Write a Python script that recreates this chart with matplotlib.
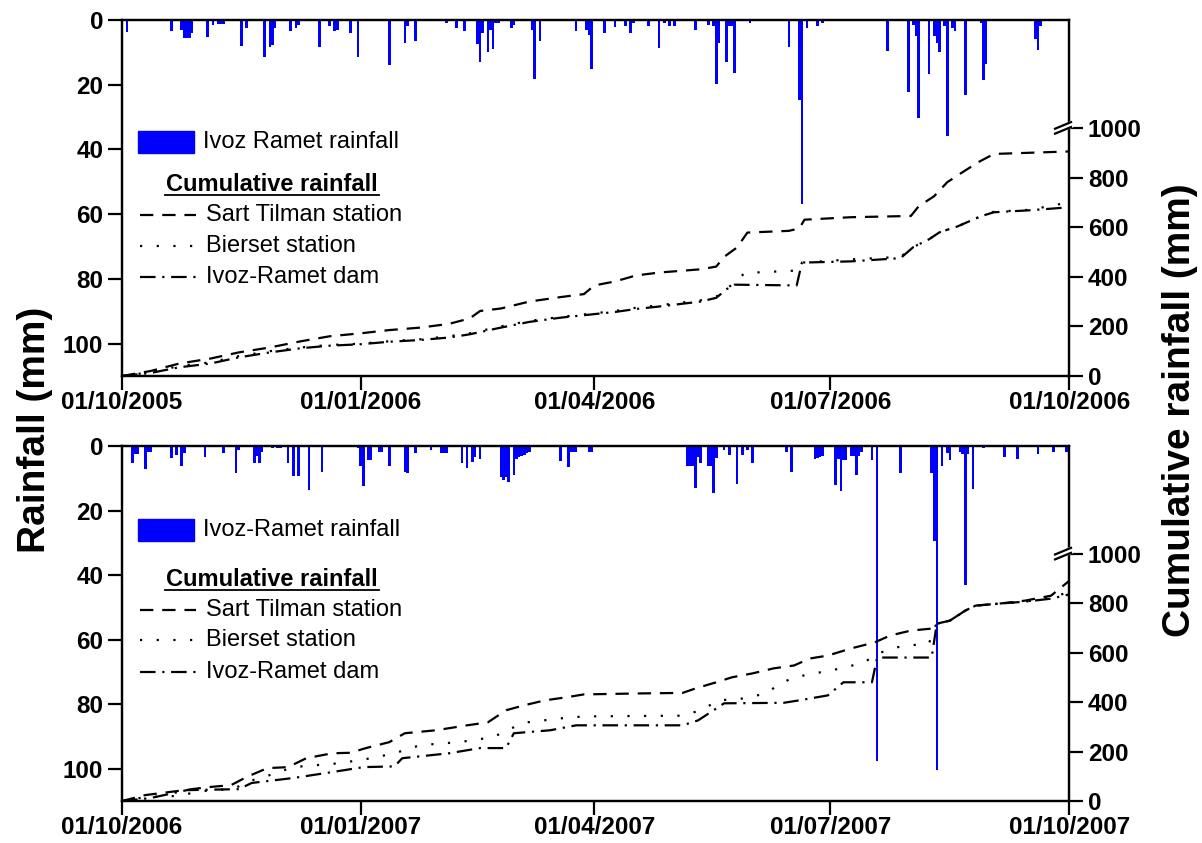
import numpy as np
import matplotlib
matplotlib.use('Agg')
import matplotlib.pyplot as plt
from matplotlib.patches import Rectangle
from matplotlib.transforms import blended_transform_factory

plt.rcParams['font.family'] = ['Liberation Sans', 'DejaVu Sans']

# ---- panel 1 : 01/10/2005 -> 01/10/2006 ----
start_1 = np.datetime64('2005-10-01')
tick_labels_1 = ['01/10/2005', '01/01/2006', '01/04/2006', '01/07/2006', '01/10/2006']
rain_label_1 = 'Ivoz Ramet rainfall'

# daily rainfall (day since start, mm)
rain_days_1 = [0, 2, 19, 23, 24, 25, 26, 27, 33, 35, 37, 38, 39, 46, 48, 55, 57, 58, 59, 65,
               67, 68, 76, 80, 82, 83, 88, 91, 103, 109, 110, 113, 125, 129, 132, 137, 138,
               139, 141, 142, 143, 144, 145, 150, 151, 158, 159, 161, 175, 179, 180, 181,
               186, 190, 194, 196, 197, 203, 207, 209, 211, 213, 221, 226, 228, 229, 230,
               233, 234, 235, 236, 242, 257, 261, 262, 264, 268, 270, 295, 303, 305, 306,
               307, 311, 313, 314, 315, 317, 318, 320, 321, 325, 331, 332, 333, 352, 353, 354]
rain_mm_1 = [7.4, 3.8, 3.5, 3, 5.5, 5.5, 5.5, 4, 5.3, 1.5, 1.2, 1.2, 1.2, 8.1, 2.5, 11.5, 8.4,
             7.6, 2.5, 3.5, 2.5, 1.5, 8.4, 2, 3.5, 3, 4, 11.3, 13.9, 7.2, 2, 6.4, 1, 2.4, 3.5,
             7.4, 13, 4, 10, 3, 9, 1, 1, 2.5, 1.5, 3, 18.2, 6.6, 3.5, 3, 4.5, 15.1, 4, 2.2, 2,
             4, 1, 2, 8.6, 1, 2, 2, 3, 1.5, 2, 19.7, 7, 13, 2, 2, 16.3, 0.8, 8.2, 24.7, 57,
             2.5, 2, 0.8, 9.5, 22.3, 1.5, 5, 30.2, 16.7, 5, 7, 10, 2, 35.7, 2.5, 3.5, 23.1,
             0.8, 18.7, 13.5, 6, 9.3, 2]

# cumulative rainfall (day since start, mm)
sart_days_1 = [0, 11, 22, 34, 45, 57, 69, 80, 92, 103, 115, 126, 134, 138, 146, 157, 169, 178,
               182, 190, 198, 207, 223, 229, 232, 237, 241, 257, 261, 263, 281, 304, 307, 313,
               318, 324, 330, 336, 365]
sart_mm_1 = [0, 20, 50, 70, 95, 115, 140, 160, 172, 185, 195, 210, 232, 262, 272, 300, 318,
             330, 365, 381, 405, 417, 430, 441, 480, 518, 578, 585, 595, 630, 640, 645, 684,
             725, 781, 822, 862, 895, 905]
bier_days_1 = [0, 11, 22, 34, 45, 57, 69, 80, 92, 103, 115, 126, 134, 146, 157, 169, 178, 190,
               198, 207, 223, 229, 233, 240, 250, 260, 262, 281, 300, 305, 311, 315, 322, 331,
               336, 350, 365]
bier_mm_1 = [0, 15, 40, 55, 80, 100, 115, 125, 130, 140, 148, 160, 172, 200, 222, 238, 248,
             262, 275, 285, 305, 320, 350, 415, 420, 425, 457, 470, 480, 520, 551, 579, 603,
             644, 662, 670, 700]
ivoz_days_1 = [0, 11, 22, 34, 45, 57, 69, 80, 92, 103, 115, 126, 134, 146, 157, 169, 178, 190,
               198, 207, 223, 229, 233, 236, 260, 262, 281, 300, 305, 311, 315, 322, 331, 336,
               350, 365]
ivoz_mm_1 = [0, 12, 35, 50, 75, 95, 112, 122, 128, 138, 145, 155, 168, 195, 218, 235, 245,
             258, 270, 280, 300, 315, 350, 368, 365, 457, 462, 475, 520, 551, 579, 603, 644,
             660, 668, 680]

# ---- panel 2 : 01/10/2006 -> 01/10/2007 ----
start_2 = np.datetime64('2006-10-01')
tick_labels_2 = ['01/10/2006', '01/01/2007', '01/04/2007', '01/07/2007', '01/10/2007']
rain_label_2 = 'Ivoz-Ramet rainfall'

rain_days_2 = [4, 5, 6, 9, 10, 11, 19, 21, 23, 24, 32, 39, 44, 45, 51, 52, 53, 54, 58, 60, 61,
               64, 66, 68, 72, 77, 91, 92, 93, 95, 96, 99, 100, 103, 109, 110, 113, 119, 123,
               124, 125, 131, 133, 135, 136, 138, 146, 147, 148, 149, 151, 152, 153, 154, 155,
               156, 157, 169, 172, 173, 174, 175, 180, 181, 218, 219, 220, 221, 222, 223, 226,
               227, 228, 229, 232, 234, 237, 239, 241, 243, 256, 258, 267, 268, 269, 270, 275,
               276, 277, 278, 279, 281, 282, 283, 284, 285, 289, 291, 300, 312, 313, 314, 316,
               318, 319, 323, 324, 325, 326, 328, 332, 340, 345, 353, 359, 364]
rain_mm_2 = [5.3, 2.5, 2.5, 7.2, 1.8, 1.8, 3.8, 2.8, 6.2, 2.3, 3.3, 2.3, 8.4, 1.2, 5.3, 3, 5.3,
             2, 0.7, 0.7, 0.7, 5.3, 9.2, 9.2, 13.5, 8.2, 0.7, 6.3, 12.3, 4.3, 4.3, 1.8, 1.8,
             6.3, 8.2, 8.4, 2.3, 1.2, 2.3, 2.3, 2.3, 5.3, 6.9, 5, 3.5, 4, 9.5, 10.5, 9.5, 11,
             9, 4, 3.5, 3, 2.8, 2.3, 2, 4.5, 6.6, 1.8, 1.8, 1.8, 1.8, 1.8, 6.3, 6.3, 6.3, 13,
             3.3, 5.3, 6.3, 6.3, 14.6, 3.8, 1.2, 2.8, 11.8, 2.8, 1.2, 5.3, 1.8, 8.1, 4, 3.8,
             3.5, 3, 12, 4, 14, 4.3, 4.3, 3, 3, 9, 3, 2, 4.3, 97.5, 8.4, 8.4, 29.5, 100.3,
             6.2, 2.3, 4.3, 2, 2.5, 43, 2.5, 13.3, 0.7, 3.3, 4, 2.5, 1.8, 1.8]

sart_days_2 = [0, 9, 15, 24, 33, 42, 48, 56, 64, 71, 81, 88, 94, 103, 109, 121, 133, 141, 148,
               155, 163, 171, 178, 200, 216, 221, 229, 235, 243, 251, 259, 265, 272, 281, 290,
               296, 304, 312, 314, 319, 325, 329, 338, 348, 358, 365]
sart_mm_2 = [0, 24, 32, 44, 56, 64, 97, 133, 137, 173, 193, 195, 214, 238, 274, 286, 306, 318,
             367, 387, 407, 419, 431, 435, 437, 455, 480, 500, 516, 536, 548, 576, 588, 617,
             641, 669, 689, 697, 717, 729, 770, 790, 798, 810, 830, 890]
bier_days_2 = [0, 9, 20, 34, 43, 48, 57, 66, 84, 96, 105, 115, 130, 143, 150, 156, 169, 178,
               216, 223, 230, 240, 248, 254, 259, 267, 277, 286, 291, 300, 311, 313, 314, 319,
               325, 329, 338, 348, 358, 365]
bier_mm_2 = [0, 16, 20, 44, 48, 77, 105, 137, 153, 173, 193, 226, 238, 258, 294, 318, 334,
             342, 345, 367, 407, 415, 435, 476, 500, 516, 536, 560, 596, 625, 637, 700, 717,
             729, 770, 790, 798, 806, 822, 845]
ivoz_days_2 = [0, 11, 25, 45, 50, 66, 81, 93, 105, 108, 126, 138, 148, 151, 165, 175, 216, 222,
               228, 232, 255, 261, 272, 278, 289, 291, 312, 314, 319, 325, 329, 338, 348, 358,
               365]
ivoz_mm_2 = [0, 12, 44, 48, 73, 93, 117, 137, 140, 173, 193, 214, 214, 274, 286, 306, 306, 326,
             367, 395, 397, 407, 427, 480, 480, 580, 580, 717, 729, 770, 790, 798, 806, 818,
             835]

fig = plt.figure(figsize=(12.02, 8.43), dpi=100)
ax_top = fig.add_axes([0.1015, 0.554, 0.788, 0.4223])
ax_bot = fig.add_axes([0.1015, 0.0498, 0.788, 0.4211])

TICK_FS = 17.5
LEG_FS = 17


def draw_panel(ax, start, tick_labels, rain_label, rain_days, rain_mm, cum, leg_y):
    end = start + np.timedelta64(365, 'D')
    x_rain = start + np.array(rain_days).astype('timedelta64[D]')
    ax.bar(x_rain, rain_mm, width=1.0, color='#0000ff', linewidth=0, zorder=2)
    ax.set_ylim(110, 0)
    ax.set_xlim(start, end)
    ax.set_yticks([0, 20, 40, 60, 80, 100])
    yr = str(start.astype(object).year + 1)
    ticks = [start, np.datetime64(yr + '-01-01'), np.datetime64(yr + '-04-01'),
             np.datetime64(yr + '-07-01'), end]
    ax.set_xticks(ticks)
    ax.set_xticklabels(tick_labels)
    for s in ax.spines.values():
        s.set_linewidth(1.6)
    ax.tick_params(axis='both', direction='out', length=10, width=1.6, labelsize=TICK_FS)
    ax.tick_params(axis='x', length=10, pad=0.5)
    for lab in ax.get_xticklabels() + ax.get_yticklabels():
        lab.set_fontweight('bold')

    ax2 = ax.twinx()
    styles = [(6, 4), (1, 6.5), (7, 3, 1, 3)]
    for (days, mm), dash in zip(cum, styles):
        xd = start + np.array(days).astype('timedelta64[D]')
        ax2.plot(xd, mm, color='k', lw=1.6, dashes=dash)
    ax2.set_ylim(0, 1435)
    ax2.set_xlim(start, end)
    ax2.set_yticks([0, 200, 400, 600, 800, 1000])
    ax2.tick_params(axis='y', direction='out', length=10, width=1.6, labelsize=TICK_FS)
    for lab in ax2.get_yticklabels():
        lab.set_fontweight('bold')
    for s in ax2.spines.values():
        s.set_linewidth(1.6)

    # axis break on the right spine at 1000
    tr = blended_transform_factory(ax2.transAxes, ax2.transData)
    for off, col, lw in [(0, 'white', 5), (-10, 'k', 1.6), (10, 'k', 1.6)]:
        ax2.plot([0.984, 1.003], [985 + off, 1015 + off], transform=tr, color=col, lw=lw,
                 clip_on=False, zorder=5, solid_capstyle='butt')

    # legend, drawn by hand
    ta = ax.transAxes
    ax.add_patch(Rectangle((0.017, leg_y[0] - 0.031), 0.059, 0.062, transform=ta,
                           color='#0000ff'))
    ax.text(0.085, leg_y[0], rain_label, transform=ta, va='center', fontsize=LEG_FS)
    ax.text(0.158, leg_y[1], 'Cumulative rainfall', transform=ta, ha='center', va='center',
            fontsize=LEG_FS, fontweight='bold')
    ax.plot([0.045, 0.271], [leg_y[1] - 0.03] * 2, transform=ta, color='k', lw=1.3)
    names = ['Sart Tilman station', 'Bierset station', 'Ivoz-Ramet dam']
    for name, dash, y in zip(names, styles, leg_y[2:]):
        ax.plot([0.019, 0.078], [y, y], transform=ta, color='k', lw=1.6, dashes=dash)
        ax.text(0.089, y, name, transform=ta, va='center', fontsize=LEG_FS)


draw_panel(ax_top, start_1, tick_labels_1, rain_label_1, rain_days_1, rain_mm_1,
           [(sart_days_1, sart_mm_1), (bier_days_1, bier_mm_1), (ivoz_days_1, ivoz_mm_1)],
           [0.657, 0.537, 0.452, 0.365, 0.278])
draw_panel(ax_bot, start_2, tick_labels_2, rain_label_2, rain_days_2, rain_mm_2,
           [(sart_days_2, sart_mm_2), (bier_days_2, bier_mm_2), (ivoz_days_2, ivoz_mm_2)],
           [0.763, 0.625, 0.538, 0.4535, 0.363])

fig.text(0.029, 0.49, 'Rainfall (mm)', rotation=90, ha='center', va='center',
         fontsize=28, fontweight='bold')
fig.text(0.982, 0.514, 'Cumulative rainfall (mm)', rotation=90, ha='center', va='center',
         fontsize=28, fontweight='bold')

fig.savefig('out.png', dpi=100)
